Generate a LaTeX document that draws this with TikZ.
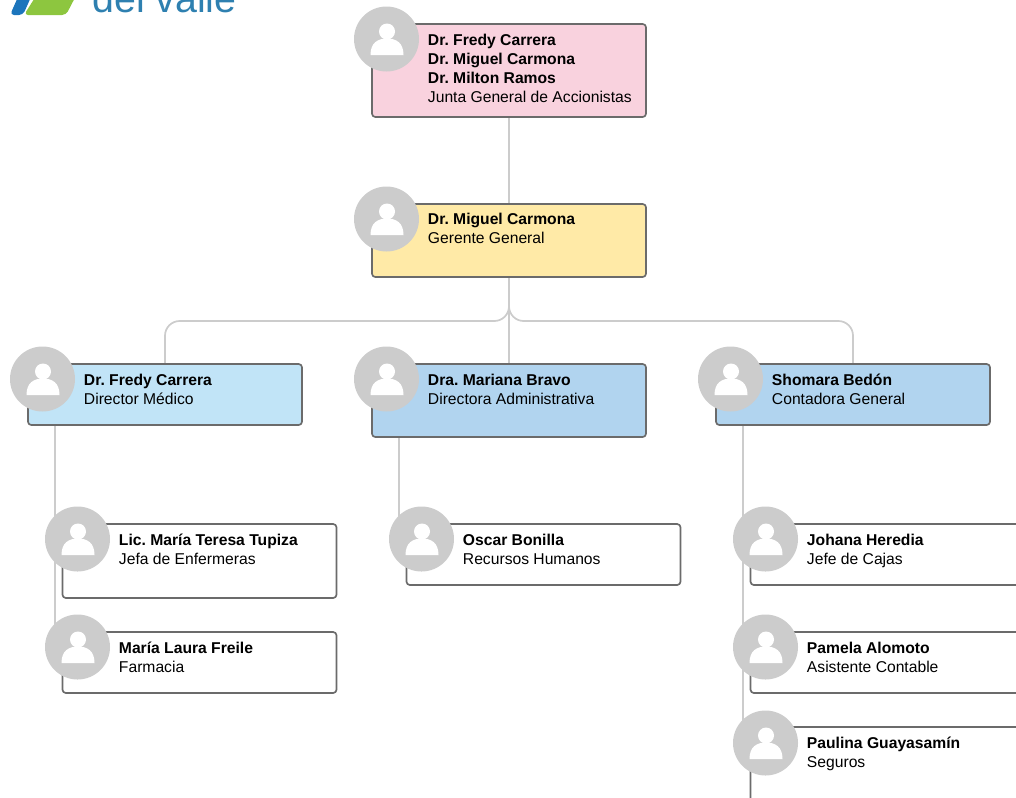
\documentclass[tikz,border=0pt]{standalone}
\usepackage{fontspec}
\setmainfont{Liberation Sans}
\usetikzlibrary{backgrounds}
\definecolor{pinkbox}{HTML}{F9D2DE}
\definecolor{yellowbox}{HTML}{FFEAA7}
\definecolor{skybox}{HTML}{C1E4F7}
\definecolor{bluebox}{HTML}{B1D4EF}
\definecolor{boxline}{HTML}{6B6B6B}
\definecolor{linkgray}{HTML}{CCCCCC}
\definecolor{logoblue}{HTML}{1C75BC}
\definecolor{logogreen}{HTML}{8DC63F}
\definecolor{logotext}{HTML}{2E80B0}
\tikzset{
  box/.style={draw=boxline, line width=1.25pt, rounded corners=2.5pt, minimum width=205.5pt, inner sep=0pt},
  boxtext/.style={anchor=north west, inner sep=0pt, align=left, font=\fontsize{11.75}{14.25}\selectfont},
  link/.style={draw=linkgray, line width=1.3pt},
  avatar/.style={circle, fill=linkgray, minimum size=48.75pt, inner sep=0pt,
    path picture={
      \fill[white, shift={(path picture bounding box.center)}] (0.5,-7.5) circle[radius=8];
      \fill[white, shift={(path picture bounding box.center)}] (-16,16)
        .. controls (-16,4) and (-9,-0.5) .. (0.5,-0.5) .. controls (10,-0.5) and (17,4) .. (17,16)
        -- cycle;
    }},
}
\newcommand{\who}[1]{\textbf{#1}}
\frenchspacing
\begin{document}
\begin{tikzpicture}[x=0.75pt, y=-0.75pt]
\clip (0,0) rectangle (1016,797);
% logo
\fill[logoblue, rounded corners=3pt] (10,15) -- (23,15) -- (35,-12) -- (22,-12) -- cycle;
\fill[logogreen, rounded corners=3pt] (24,15) -- (66,15) -- (80,-12) -- (41,-12) -- cycle;
\node[anchor=base west, inner sep=0pt, text=logotext, font=\fontsize{29.5}{29.5}\selectfont] (logoname) at (92,12) {del valle};
% boxes
\node[box, fill=pinkbox, minimum height=69.75pt] (junta) at (509,70.5) {};
\node[box, fill=yellowbox, minimum height=54.75pt] (gerente) at (509,240.5) {};
\node[box, fill=skybox, minimum height=45.75pt] (medico) at (165,394.5) {};
\node[box, fill=bluebox, minimum height=54.75pt] (admin) at (509,400.5) {};
\node[box, fill=bluebox, minimum height=45.75pt] (contadora) at (853,394.5) {};
\node[box, fill=white, minimum height=55.5pt] (tupiza) at (199.5,561) {};
\node[box, fill=white, minimum height=45.75pt] (freile) at (199.5,662.5) {};
\node[box, fill=white, minimum height=45.75pt] (bonilla) at (543.5,554.5) {};
\node[box, fill=white, minimum height=45.75pt] (heredia) at (887.5,554.5) {};
\node[box, fill=white, minimum height=45.75pt] (alomoto) at (887.5,662.5) {};
\node[box, fill=white, minimum height=75pt] (guayasamin) at (887.5,777) {};
% photos
\node[avatar] (juntaphoto) at (386.5,39) {};
\node[avatar] (gerentephoto) at (386.5,219) {};
\node[avatar] (medicophoto) at (42.5,379) {};
\node[avatar] (adminphoto) at (386.5,379) {};
\node[avatar] (contadoraphoto) at (730.5,379) {};
\node[avatar] (tupizaphoto) at (77.5,539) {};
\node[avatar] (freilephoto) at (77.5,647) {};
\node[avatar] (bonillaphoto) at (421.5,539) {};
\node[avatar] (herediaphoto) at (765.5,539) {};
\node[avatar] (alomotophoto) at (765.5,647) {};
\node[avatar] (guayasaminphoto) at (765.5,743) {};
% connectors
\coordinate (medicotrunk) at (55,425);
\coordinate (admintrunk) at (399,437);
\coordinate (contatrunk) at (743,425);
\begin{scope}[on background layer]
\draw[link] (junta) -- (gerente);
\draw[link] (gerente) -- (admin);
\draw[link, rounded corners=11pt] (gerente.south) |- (165,321) -- (medico.north);
\draw[link, rounded corners=11pt] (gerente.south) |- (853,321) -- (contadora.north);
\draw[link] (medicotrunk) -- (medicotrunk |- freilephoto);
\draw[link] (admintrunk) -- (admintrunk |- bonillaphoto);
\draw[link] (contatrunk) -- (contatrunk |- guayasaminphoto);
\end{scope}
% texts
\node[boxtext] (juntatext) at (427.7,34) {\who{Dr. Fredy Carrera}\\\who{Dr. Miguel Carmona}\\\who{Dr. Milton Ramos}\\Junta General de Accionistas};
\node[boxtext] (gerentetext) at (427.7,213) {\who{Dr. Miguel Carmona}\\Gerente General};
\node[boxtext] (medicotext) at (83.7,373.5) {\who{Dr. Fredy Carrera}\\Director Médico};
\node[boxtext] (admintext) at (427.7,373.5) {\who{Dra. Mariana Bravo}\\Directora Administrativa};
\node[boxtext] (contadoratext) at (771.7,373.5) {\who{Shomara Bedón}\\Contadora General};
\node[boxtext] (tupizatext) at (118.7,534) {\who{Lic. María Teresa Tupiza}\\Jefa de Enfermeras};
\node[boxtext] (freiletext) at (118.7,642) {\who{María Laura Freile}\\Farmacia};
\node[boxtext] (bonillatext) at (462.7,534) {\who{Oscar Bonilla}\\Recursos Humanos};
\node[boxtext] (herediatext) at (806.7,534) {\who{Johana Heredia}\\Jefe de Cajas};
\node[boxtext] (alomototext) at (806.7,642) {\who{Pamela Alomoto}\\Asistente Contable};
\node[boxtext] (guayasamintext) at (806.7,737) {\who{Paulina Guayasamín}\\Seguros};
\end{tikzpicture}
\end{document}
